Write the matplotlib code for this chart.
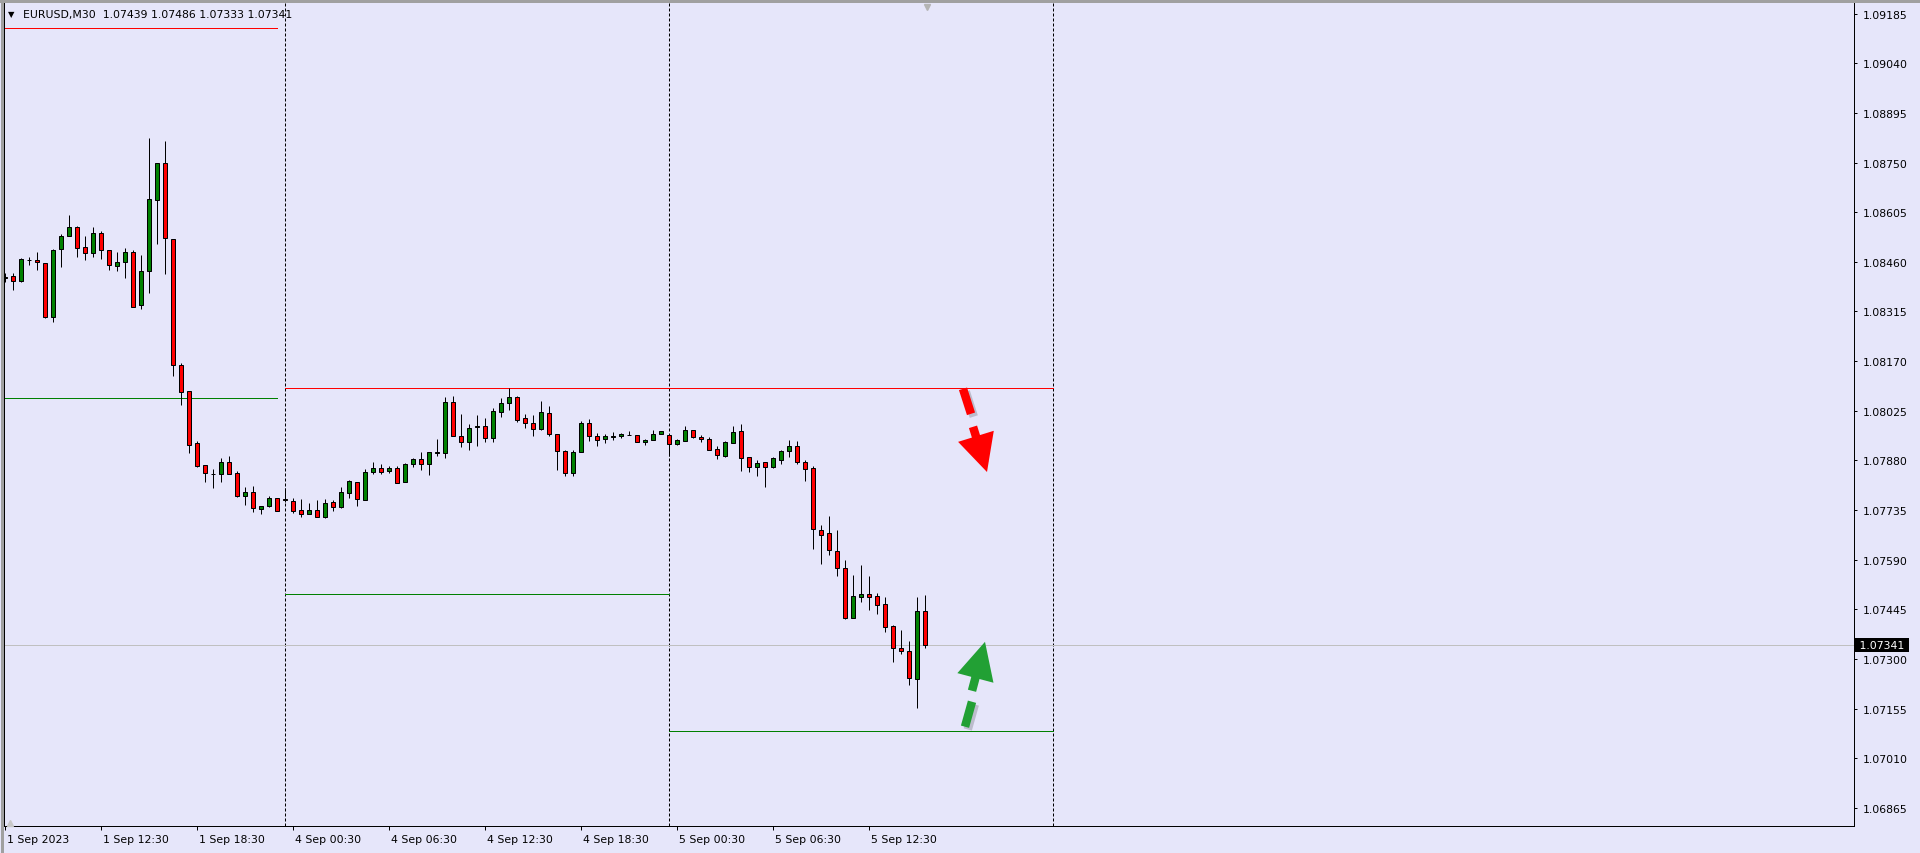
import matplotlib
matplotlib.use("Agg")
import matplotlib.pyplot as plt
import matplotlib.transforms as mtransforms
import matplotlib.patheffects as pe
from matplotlib.lines import Line2D
from matplotlib.patches import Rectangle

# EURUSD M30, 1 Sep 2023 06:30 .. 5 Sep 2023 16:00 (one bar = 30 min)
opens = [1.08416, 1.08418, 1.08404, 1.08465, 1.08465, 1.08456, 1.08300, 1.08497, 1.08534, 1.08561,
         1.08503, 1.08485, 1.08544, 1.08494, 1.08447, 1.08458, 1.08488, 1.08333, 1.08433, 1.08640,
         1.08749, 1.08526, 1.08158, 1.08082, 1.07930, 1.07866, 1.07841, 1.07839, 1.07875, 1.07843,
         1.07775, 1.07787, 1.07737, 1.07748, 1.07770, 1.07766, 1.07761, 1.07735, 1.07722, 1.07735,
         1.07716, 1.07758, 1.07745, 1.07786, 1.07816, 1.07764, 1.07846, 1.07857, 1.07848, 1.07857,
         1.07818, 1.07869, 1.07884, 1.07868, 1.07902, 1.07901, 1.08050, 1.07952, 1.07933, 1.07978,
         1.07980, 1.07944, 1.08021, 1.08047, 1.08065, 1.08003, 1.07989, 1.07972, 1.08018, 1.07957,
         1.07907, 1.07844, 1.07904, 1.07989, 1.07950, 1.07942, 1.07949, 1.07951, 1.07955, 1.07953,
         1.07933, 1.07939, 1.07957, 1.07953, 1.07927, 1.07938, 1.07968, 1.07949, 1.07942, 1.07913,
         1.07893, 1.07932, 1.07965, 1.07889, 1.07862, 1.07876, 1.07862, 1.07882, 1.07908, 1.07922,
         1.07876, 1.07858, 1.07677, 1.07667, 1.07616, 1.07566, 1.07421, 1.07482, 1.07490, 1.07484,
         1.07460, 1.07396, 1.07331, 1.07323, 1.07240, 1.07439]
highs = [1.08428, 1.08428, 1.08471, 1.08474, 1.08489, 1.08456, 1.08498, 1.08541, 1.08597, 1.08564,
         1.08536, 1.08562, 1.08550, 1.08494, 1.08489, 1.08501, 1.08494, 1.08480, 1.08822, 1.08749,
         1.08813, 1.08526, 1.08164, 1.08082, 1.07936, 1.07866, 1.07855, 1.07887, 1.07892, 1.07848,
         1.07803, 1.07806, 1.07746, 1.07775, 1.07770, 1.07800, 1.07770, 1.07767, 1.07755, 1.07765,
         1.07768, 1.07765, 1.07803, 1.07823, 1.07816, 1.07855, 1.07875, 1.07869, 1.07863, 1.07863,
         1.07871, 1.07887, 1.07904, 1.07904, 1.07942, 1.08065, 1.08068, 1.08014, 1.07987, 1.08013,
         1.08003, 1.08032, 1.08062, 1.08091, 1.08068, 1.08015, 1.08013, 1.08053, 1.08038, 1.07957,
         1.07911, 1.07911, 1.07995, 1.08001, 1.07959, 1.07957, 1.07962, 1.07960, 1.07966, 1.07953,
         1.07943, 1.07969, 1.07966, 1.07953, 1.07943, 1.07980, 1.07968, 1.07955, 1.07948, 1.07923,
         1.07937, 1.07979, 1.07987, 1.07889, 1.07881, 1.07876, 1.07891, 1.07911, 1.07940, 1.07937,
         1.07881, 1.07865, 1.07692, 1.07718, 1.07677, 1.07589, 1.07546, 1.07573, 1.07541, 1.07494,
         1.07480, 1.07399, 1.07385, 1.07353, 1.07481, 1.07486]
lows = [1.08400, 1.08378, 1.08402, 1.08452, 1.08437, 1.08297, 1.08284, 1.08446, 1.08534, 1.08475,
        1.08464, 1.08475, 1.08469, 1.08437, 1.08434, 1.08414, 1.08329, 1.08323, 1.08370, 1.08513,
        1.08423, 1.08125, 1.08043, 1.07902, 1.07862, 1.07818, 1.07800, 1.07818, 1.07841, 1.07774,
        1.07751, 1.07730, 1.07722, 1.07745, 1.07733, 1.07758, 1.07725, 1.07716, 1.07722, 1.07716,
        1.07713, 1.07733, 1.07742, 1.07771, 1.07748, 1.07764, 1.07839, 1.07839, 1.07843, 1.07813,
        1.07816, 1.07860, 1.07853, 1.07836, 1.07894, 1.07888, 1.07950, 1.07920, 1.07909, 1.07923,
        1.07935, 1.07935, 1.08006, 1.08028, 1.07992, 1.07975, 1.07952, 1.07969, 1.07950, 1.07853,
        1.07833, 1.07835, 1.07904, 1.07938, 1.07923, 1.07931, 1.07940, 1.07946, 1.07953, 1.07933,
        1.07926, 1.07939, 1.07957, 1.07892, 1.07925, 1.07936, 1.07944, 1.07934, 1.07909, 1.07884,
        1.07891, 1.07932, 1.07850, 1.07847, 1.07835, 1.07803, 1.07857, 1.07868, 1.07891, 1.07870,
        1.07821, 1.07621, 1.07576, 1.07605, 1.07541, 1.07417, 1.07421, 1.07465, 1.07444, 1.07432,
        1.07380, 1.07292, 1.07315, 1.07224, 1.07158, 1.07333]
closes = [1.08414, 1.08405, 1.08468, 1.08466, 1.08458, 1.08300, 1.08494, 1.08535, 1.08561, 1.08500,
          1.08485, 1.08544, 1.08494, 1.08450, 1.08459, 1.08488, 1.08329, 1.08433, 1.08643, 1.08749,
          1.08529, 1.08158, 1.08081, 1.07926, 1.07865, 1.07843, 1.07840, 1.07875, 1.07841, 1.07777,
          1.07787, 1.07740, 1.07746, 1.07770, 1.07733, 1.07765, 1.07733, 1.07722, 1.07735, 1.07716,
          1.07755, 1.07745, 1.07787, 1.07819, 1.07767, 1.07846, 1.07857, 1.07846, 1.07857, 1.07815,
          1.07869, 1.07884, 1.07869, 1.07904, 1.07904, 1.08050, 1.07950, 1.07933, 1.07976, 1.07980,
          1.07944, 1.08024, 1.08047, 1.08065, 1.07999, 1.07989, 1.07973, 1.08021, 1.07957, 1.07907,
          1.07844, 1.07905, 1.07989, 1.07950, 1.07939, 1.07951, 1.07951, 1.07957, 1.07954, 1.07933,
          1.07940, 1.07957, 1.07966, 1.07927, 1.07940, 1.07968, 1.07947, 1.07942, 1.07911, 1.07895,
          1.07934, 1.07963, 1.07888, 1.07862, 1.07873, 1.07862, 1.07886, 1.07908, 1.07922, 1.07876,
          1.07856, 1.07679, 1.07663, 1.07617, 1.07565, 1.07420, 1.07484, 1.07489, 1.07482, 1.07459,
          1.07394, 1.07331, 1.07323, 1.07244, 1.07440, 1.07341]

# time axis labels (bar index -> label)
tick_bars = [0, 12, 24, 36, 48, 60, 72, 84, 96, 108]
tick_labels = ["1 Sep 2023", "1 Sep 12:30", "1 Sep 18:30", "4 Sep 00:30", "4 Sep 06:30",
               "4 Sep 12:30", "4 Sep 18:30", "5 Sep 00:30", "5 Sep 06:30", "5 Sep 12:30"]
price_ticks = [1.09185, 1.09040, 1.08895, 1.08750, 1.08605, 1.08460, 1.08315, 1.08170, 1.08025,
               1.07880, 1.07735, 1.07590, 1.07445, 1.07300, 1.07155, 1.07010, 1.06865]

# day separators and per-day high / low levels
day_separators = [35, 83, 131]
high_starts = [-1, 35, 83]
high_ends = [34, 83, 131]
high_prices = [1.09143, 1.08091, 1.08091]
low_starts = [-1, 35, 83]
low_ends = [34, 83, 131]
low_prices = [1.08062, 1.07490, 1.07090]

# hand-drawn arrows: (bar, price) points
sell_dash = [(119.75, 1.08089), (120.75, 1.08016)]
sell_head = [(121.0, 1.07978), (122.75, 1.07846)]
buy_dash = [(120.0, 1.07102), (120.875, 1.07175)]
buy_head = [(120.875, 1.07207), (122.5, 1.07350)]

BG = "#E6E6FA"
BULL = "#008000"
BEAR = "#FF0000"
PX = 72 / 100  # one pixel in points
FS = 7.8

plt.rcParams["font.family"] = ["DejaVu Sans"]
fig = plt.figure(figsize=(19.2, 8.54), dpi=100, facecolor=BG)
ax = fig.add_axes([4 / 1920, 27 / 854, 1850 / 1920, 823 / 854], facecolor=BG)
ax.set_xlim(-0.125, 231.125)
ax.set_ylim(1.06812, 1.09216)

# separators, levels, current price line
for d in day_separators:
    ax.axvline(d, color="black", lw=PX, linestyle=(0, (3, 2)), zorder=1)
ax.axhline(closes[-1], color="#C0C0C0", lw=PX, zorder=1)
for s, e, p in zip(high_starts, high_ends, high_prices):
    ax.plot([s, e], [p, p], color="#FF0000", lw=PX, zorder=1)
for s, e, p in zip(low_starts, low_ends, low_prices):
    ax.plot([s, e], [p, p], color="#008000", lw=PX, zorder=1)

# candles
w = 0.6
for i, (o, h, l, c) in enumerate(zip(opens, highs, lows, closes)):
    ax.plot([i, i], [l, h], color="black", lw=PX, zorder=2, solid_capstyle="butt")
    color = BULL if c > o else BEAR
    ax.add_patch(Rectangle((i - w / 2, min(o, c)), w, abs(c - o), facecolor=color,
                           edgecolor="black", lw=PX, zorder=3))

# arrows
shadow = [pe.SimpleLineShadow(offset=(2, -2), alpha=0.18), pe.Normal()]
pshadow = [pe.SimplePatchShadow(offset=(2, -2), alpha=0.18), pe.Normal()]
for dash, head, col in [(sell_dash, sell_head, "#FF0000"), (buy_dash, buy_head, "#22A034")]:
    (x0, y0), (x1, y1) = dash
    ax.plot([x0, x1], [y0, y1], color=col, lw=8.5 * PX, solid_capstyle="butt",
            path_effects=shadow, zorder=4)
    (x0, y0), (x1, y1) = head
    ax.annotate("", xy=(x1, y1), xytext=(x0, y0),
                arrowprops=dict(arrowstyle="-|>,head_length=17,head_width=8.5", mutation_scale=1,
                                color=col, lw=8.5 * PX, shrinkA=0, shrinkB=0,
                                capstyle="butt", joinstyle="miter", path_effects=pshadow),
                zorder=4)

# axes styling
for sp in ax.spines.values():
    sp.set_color("black")
    sp.set_linewidth(PX)
ax.spines["top"].set_visible(False)
ax.yaxis.tick_right()
ax.set_yticks(price_ticks)
ax.set_yticklabels([f"{p:.5f}" for p in price_ticks])
ax.tick_params(axis="y", direction="out", length=2.5, width=PX, pad=4, labelsize=FS,
               colors="black")
ax.set_xticks(tick_bars)
ax.set_xticklabels(tick_labels, ha="left")
ax.tick_params(axis="x", direction="out", length=3, width=PX, pad=3, labelsize=FS,
               colors="black")
shift = mtransforms.ScaledTranslation(2 / 100, 0, fig.dpi_scale_trans)
for lbl in ax.get_xticklabels():
    lbl.set_transform(lbl.get_transform() + shift)

# current price tag
blend = mtransforms.blended_transform_factory(ax.transAxes, ax.transData)
ax.text(1.0, closes[-1], f" {closes[-1]:.5f} ", transform=blend + mtransforms.ScaledTranslation(
    2 / 100, 0, fig.dpi_scale_trans), ha="left", va="center", color="white", fontsize=FS,
        bbox=dict(boxstyle="square,pad=0.15", facecolor="black", edgecolor="none"), zorder=6)

# chart shift marker and scroll corner
top = mtransforms.blended_transform_factory(ax.transData, ax.transAxes)
ax.plot([len(opens) - 0.75], [0.995], marker="v", markersize=5, color="#B4B4B4",
        transform=top, clip_on=False, zorder=5)
ax.plot([0.003], [0.004], marker="^", markersize=5, color="#C8C8C8",
        transform=ax.transAxes, clip_on=False, zorder=5)

# header
fig.text(8 / 1920, 1 - 15 / 854, "\u25bc", fontsize=6, va="center", ha="left", color="black")
fig.text(23 / 1920, 1 - 15 / 854,
         f"EURUSD,M30  {opens[-1]:.5f} {highs[-1]:.5f} {lows[-1]:.5f} {closes[-1]:.5f}",
         fontsize=FS, va="center", ha="left", color="black")

# window frame: grey top and left edges
fig.add_artist(Line2D([0, 1], [1 - 1.5 / 854] * 2, transform=fig.transFigure,
                      color="#A0A0A0", lw=3 * PX))
fig.add_artist(Line2D([1.5 / 1920] * 2, [0, 1], transform=fig.transFigure,
                      color="#A0A0A0", lw=3 * PX))
fig.add_artist(Line2D([0, 1], [0.5 / 854] * 2, transform=fig.transFigure,
                      color="#C8C8C8", lw=PX))

fig.savefig("out.png", dpi=100, facecolor=BG)
